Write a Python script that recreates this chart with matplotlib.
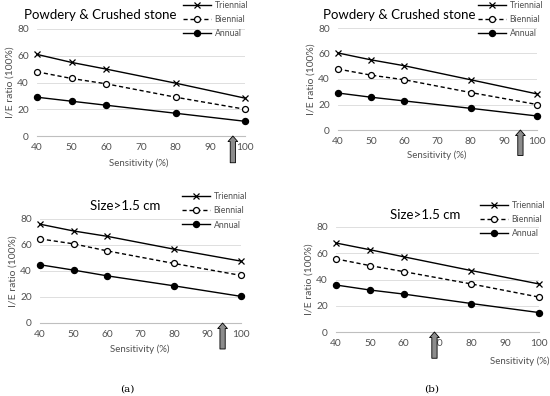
import matplotlib
matplotlib.use("Agg")
import matplotlib.pyplot as plt

plt.rcParams["font.family"] = ["Lato", "DejaVu Sans"]

sensitivity = [40, 50, 60, 80, 100]

# (a) Powdery & Crushed stone
a_top_tri = [61, 55, 50, 39.5, 28.3]
a_top_bi = [48, 43, 39, 29, 20]
a_top_an = [29, 26, 23, 17, 11]
# (b) Powdery & Crushed stone
b_top_tri = [60.4, 55, 50.4, 39.4, 28.3]
b_top_bi = [47.8, 43, 39.4, 29.4, 20]
b_top_an = [29, 25.7, 22.8, 17, 11]
# (a) Size>1.5 cm
a_bot_tri = [76, 70.8, 66.7, 56.8, 47.6]
a_bot_bi = [64.7, 60.9, 55.5, 45.8, 36.6]
a_bot_an = [44.8, 40.7, 36.3, 28.6, 20.5]
# (b) Size>1.5 cm
b_bot_tri = [67.8, 62.7, 57.3, 46.8, 36.6]
b_bot_bi = [55.7, 50.6, 46, 36.6, 26.6]
b_bot_an = [35.8, 32, 28.9, 21.7, 14.8]

titles = ["Powdery & Crushed stone", "Powdery & Crushed stone", "Size>1.5 cm", "Size>1.5 cm"]
arrow_x = [96.5, 95, 94.5, 69.1]
x_ticks = [40, 50, 60, 70, 80, 90, 100]
y_ticks = [0, 20, 40, 60, 80]

W, H = 550, 396
fig = plt.figure(figsize=(5.5, 3.96), dpi=100)


def px_axes(left, top, right, bottom):
    return fig.add_axes([left / W, 1 - bottom / H, (right - left) / W, (bottom - top) / H])


panels = [
    # axes box (px), title pos, legend pos, xlabel pos
    dict(box=(37, 29, 245, 136), title=(100, 15), leg=(183, 1), xlab=(139, 163),
         data=(a_top_tri, a_top_bi, a_top_an)),
    dict(box=(338, 28, 537, 130), title=(399, 15), leg=(478, 1), xlab=(437, 155),
         data=(b_top_tri, b_top_bi, b_top_an)),
    dict(box=(40, 219, 241, 323), title=(125, 206), leg=(182, 192), xlab=(140, 349),
         data=(a_bot_tri, a_bot_bi, a_bot_an)),
    dict(box=(336, 227, 539, 332), title=(425, 215), leg=(480, 201), xlab=(520, 361),
         data=(b_bot_tri, b_bot_bi, b_bot_an)),
]

for i, p in enumerate(panels):
    ax = px_axes(*p["box"])
    tri, bi, an = p["data"]
    ax.plot(sensitivity, tri, color="black", lw=1.0, marker="x", ms=3.8, mew=0.9,
            label="Triennial", clip_on=False, zorder=3)
    ax.plot(sensitivity, bi, color="black", lw=1.0, ls=(0, (3, 2)), marker="o", ms=4.3,
            mfc="white", mec="black", mew=0.9, label="Biennial", clip_on=False, zorder=3)
    ax.plot(sensitivity, an, color="black", lw=1.0, marker="o", ms=4.3,
            label="Annual", clip_on=False, zorder=3)

    ax.set_xlim(40, 100)
    ax.set_ylim(0, 80)
    ax.set_xticks(x_ticks)
    ax.set_yticks(y_ticks)
    ax.tick_params(labelsize=7.3, length=0, colors="#505050")
    ax.tick_params(axis="x", pad=5)
    ax.tick_params(axis="y", pad=6)
    ax.yaxis.grid(True, color="#d9d9d9", lw=0.6)
    ax.set_axisbelow(True)
    for s in ["top", "right", "left"]:
        ax.spines[s].set_visible(False)
    ax.spines["bottom"].set_color("#bfbfbf")
    ax.spines["bottom"].set_linewidth(0.8)

    ax.set_ylabel("I/E ratio (100%)", fontsize=7.5, color="#505050", labelpad=2)
    fig.text(p["xlab"][0] / W, 1 - p["xlab"][1] / H, "Sensitivity (%)", fontsize=7,
             color="#505050", ha="center", va="center")
    fig.text(p["title"][0] / W, 1 - p["title"][1] / H, titles[i], fontsize=9.5,
             color="black", ha="center", va="center")

    ax.legend(loc="upper left", bbox_to_anchor=(p["leg"][0] / W, 1 - p["leg"][1] / H),
              bbox_transform=fig.transFigure, frameon=False, fontsize=6.3,
              handlelength=3.2, handletextpad=0.4, labelspacing=0.6,
              borderpad=0, borderaxespad=0, labelcolor="#505050")

    ax.annotate("", xy=(arrow_x[i], 0), xycoords=("data", "axes fraction"),
                xytext=(arrow_x[i], -0.25), textcoords=("data", "axes fraction"),
                arrowprops=dict(arrowstyle="simple,head_length=0.4,head_width=0.7,tail_width=0.38",
                                fc="#8c8c8c", ec="black", lw=0.6, mutation_scale=10,
                                shrinkA=0, shrinkB=0),
                annotation_clip=False)

fig.text(127 / W, 1 - 389 / H, "(a)", fontsize=7.5, family="DejaVu Serif",
         ha="center", va="center")
fig.text(432 / W, 1 - 389 / H, "(b)", fontsize=7.5, family="DejaVu Serif",
         ha="center", va="center")

fig.savefig("out.png", dpi=100)
